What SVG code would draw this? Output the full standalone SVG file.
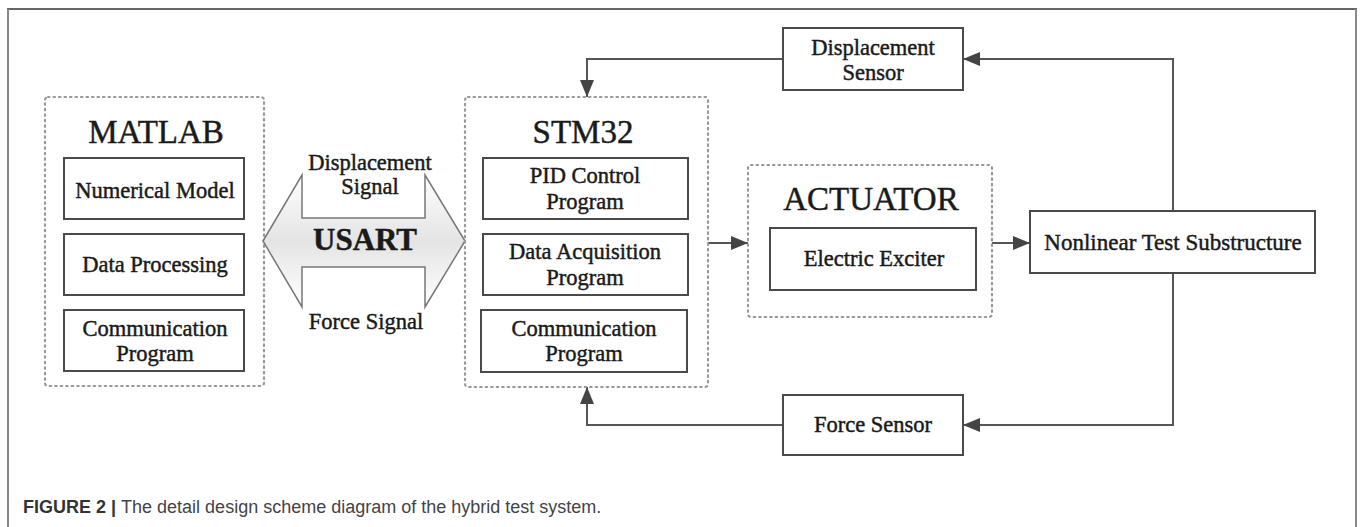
<svg xmlns="http://www.w3.org/2000/svg" width="1360" height="527" viewBox="0 0 1360 527">
<defs>
<linearGradient id="usartFill" x1="0" y1="0" x2="0" y2="1">
<stop offset="0" stop-color="#ffffff"/>
<stop offset="0.5" stop-color="#e4e4e4"/>
<stop offset="1" stop-color="#ffffff"/>
</linearGradient>
<marker id="ah" markerUnits="userSpaceOnUse" markerWidth="18" markerHeight="16" refX="17" refY="7" orient="auto">
<path d="M0,0 L17,7 L0,14 Z" fill="#444"/>
</marker>
</defs>
<style>
.frameT{stroke:#333;stroke-width:1.5;fill:none}
.frameS{stroke:#888;stroke-width:2;fill:none}
.group{fill:none;stroke:#999;stroke-width:2.2;stroke-dasharray:1.5 4;stroke-linecap:round}
.box{fill:#fff;stroke:#4a4a4a;stroke-width:2}
.t{font-family:"Liberation Serif","Times New Roman",serif;fill:#1a1a1a;stroke:#1a1a1a;stroke-width:0.45;text-anchor:middle}
.title{font-size:33px}
.lbl{font-size:22.5px}
.conn{fill:none;stroke:#555;stroke-width:2}
.cap{font-family:"Liberation Sans",Arial,sans-serif;font-size:18px;fill:#444}
</style>

<g id="frame">
<line class="frameT" x1="7" y1="9" x2="1357" y2="9"/>
<line class="frameS" x1="8" y1="9" x2="8" y2="527"/>
<line class="frameS" x1="1356" y1="9" x2="1356" y2="527"/>
</g>

<g id="connectors">
<polyline class="conn" points="783,59 587,59 587,97" marker-end="url(#ah)"/>
<polyline class="conn" points="1173,211 1173,59 963,59" marker-end="url(#ah)"/>
<line class="conn" x1="708" y1="243" x2="748" y2="243" marker-end="url(#ah)"/>
<line class="conn" x1="992" y1="243" x2="1030" y2="243" marker-end="url(#ah)"/>
<polyline class="conn" points="1173,273 1173,425 963,425" marker-end="url(#ah)"/>
<polyline class="conn" points="783,425 587,425 587,387" marker-end="url(#ah)"/>
</g>

<g id="matlab">
<rect class="group" x="45" y="97" width="219" height="289" rx="3"/>
<text class="t title" x="156" y="143">MATLAB</text>
<rect class="box" x="64" y="158" width="180" height="61"/>
<text class="t lbl" x="155" y="198">Numerical Model</text>
<rect class="box" x="64" y="234" width="180" height="61"/>
<text class="t lbl" x="155" y="272">Data Processing</text>
<rect class="box" x="64" y="310" width="180" height="61"/>
<text class="t lbl" x="155" y="336">Communication</text>
<text class="t lbl" x="155" y="361">Program</text>
</g>

<g id="usart">
<polygon points="263,241 302,175 302,218 425,218 425,175 465,241 425,307 425,267 302,267 302,307" fill="url(#usartFill)" stroke="#777" stroke-width="1.5"/>
<text class="t" x="365" y="250" font-size="31" font-weight="bold">USART</text>
<text class="t lbl" x="370" y="170">Displacement</text>
<text class="t lbl" x="370" y="194">Signal</text>
<text class="t lbl" x="366" y="329">Force Signal</text>
</g>

<g id="stm32">
<rect class="group" x="465" y="97" width="243" height="290" rx="3"/>
<text class="t title" x="583" y="143">STM32</text>
<rect class="box" x="483" y="158" width="205" height="61"/>
<text class="t lbl" x="585" y="183">PID Control</text>
<text class="t lbl" x="585" y="209">Program</text>
<rect class="box" x="483" y="234" width="205" height="61"/>
<text class="t lbl" x="585" y="259">Data Acquisition</text>
<text class="t lbl" x="585" y="285">Program</text>
<rect class="box" x="481" y="310" width="206" height="62"/>
<text class="t lbl" x="584" y="336">Communication</text>
<text class="t lbl" x="584" y="361">Program</text>
</g>

<g id="actuator">
<rect class="group" x="748" y="165" width="244" height="152" rx="3"/>
<text class="t title" x="871" y="210">ACTUATOR</text>
<rect class="box" x="770" y="228" width="206" height="62"/>
<text class="t lbl" x="874" y="266">Electric Exciter</text>
</g>

<g id="displacement-sensor">
<rect class="box" x="783" y="28" width="180" height="62"/>
<text class="t lbl" x="873" y="55">Displacement</text>
<text class="t lbl" x="873" y="80">Sensor</text>
</g>

<g id="nonlinear">
<rect class="box" x="1030" y="211" width="285" height="62"/>
<text class="t" x="1173" y="250" font-size="23">Nonlinear Test Substructure</text>
</g>

<g id="force-sensor">
<rect class="box" x="783" y="395" width="180" height="60"/>
<text class="t lbl" x="873" y="432">Force Sensor</text>
</g>

<g id="caption">
<text class="cap" x="23" y="513"><tspan font-weight="bold" fill="#333">FIGURE 2 | </tspan>The detail design scheme diagram of the hybrid test system.</text>
</g>
</svg>
